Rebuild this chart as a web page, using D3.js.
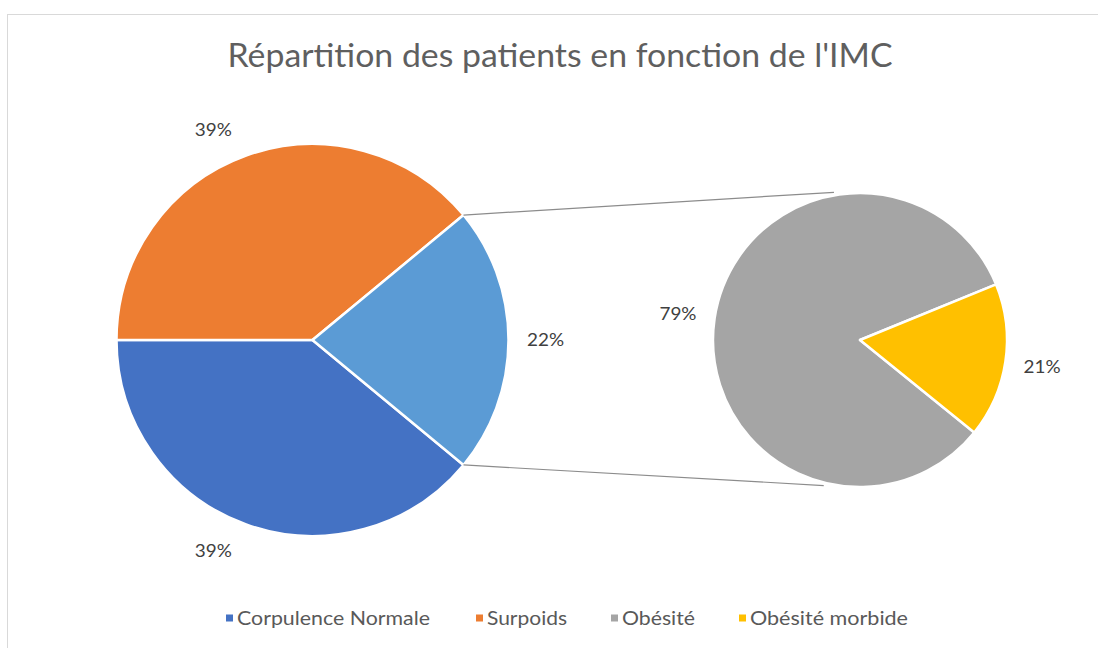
<!DOCTYPE html>
<html><head><meta charset="utf-8">
<script src="https://cdn.jsdelivr.net/npm/d3@7"></script>
<style>html,body{margin:0;padding:0;background:#fff;}svg{display:block;}</style>
</head><body>
<svg id="c" width="1098" height="648"></svg>
<script>
// ---- data ----
const mainCategories = ["Corpulence Normale", "Surpoids", "Autre"];
const mainValues = [39, 39, 22];
const mainLabels = ["39%", "39%", "22%"];
const subCategories = ["Obésité", "Obésité morbide"];
const subValues = [83, 17];
const subLabels = ["79%", "21%"];
const legendCategories = ["Corpulence Normale", "Surpoids", "Obésité", "Obésité morbide"];
const titleText = "Répartition des patients en fonction de l'IMC";

// ---- layout / style ----
const W = 1098, H = 648;
const colors = {"Corpulence Normale":"#4472C4","Surpoids":"#ED7D31","Autre":"#5B9BD5","Obésité":"#A5A5A5","Obésité morbide":"#FFC000"};
const mainC = {x:312.5, y:340, r:196};
const subC = {x:860, y:340, r:147};
const deg = Math.PI/180;
const font = "Lato, 'Open Sans', sans-serif";

const svg = d3.select("#c");
svg.append("rect").attr("x",7.5).attr("y",14.5).attr("width",W).attr("height",H)
  .attr("fill","#fff").attr("stroke","#d9d9d9").attr("stroke-width",1);

svg.append("text").attr("x",560).attr("y",67).attr("text-anchor","middle")
  .attr("font-family",font).attr("font-size",32).attr("font-weight",400).attr("fill","#5f5f5f")
  .attr("textLength",665).attr("lengthAdjust","spacingAndGlyphs").text(titleText);

// main pie: "other" slice centred on 3 o'clock
const otherSpan = mainValues[2]/d3.sum(mainValues)*2*Math.PI;
const mainStart = Math.PI/2 + otherSpan/2;
const mainPie = d3.pie().sort(null).value(d=>d).startAngle(mainStart).endAngle(mainStart+2*Math.PI);
const mainArcs = mainPie(mainValues);
const mainArc = d3.arc().innerRadius(0).outerRadius(mainC.r);
const gm = svg.append("g").attr("transform",`translate(${mainC.x},${mainC.y})`);
gm.selectAll("path").data(mainArcs).join("path")
  .attr("d",mainArc).attr("fill",(d,i)=>colors[mainCategories[i]])
  .attr("stroke","#fff").attr("stroke-width",2.5).attr("stroke-linejoin","round");

// secondary pie
const subStart = 129*deg;
const subPie = d3.pie().sort(null).value(d=>d).startAngle(subStart).endAngle(subStart+2*Math.PI);
const subArcs = subPie(subValues);
const subArc = d3.arc().innerRadius(0).outerRadius(subC.r);
const gs = svg.append("g").attr("transform",`translate(${subC.x},${subC.y})`);
gs.selectAll("path").data(subArcs).join("path")
  .attr("d",subArc).attr("fill",(d,i)=>colors[subCategories[i]])
  .attr("stroke","#fff").attr("stroke-width",2.5).attr("stroke-linejoin","round");

// connector lines
const o = mainArcs[2];
const pt = (c,a,r)=>[c.x+r*Math.sin(a), c.y-r*Math.cos(a)];
const conns = [
  [pt(mainC,o.startAngle,mainC.r), pt(subC,-10*deg,subC.r+3)],
  [pt(mainC,o.endAngle,mainC.r), pt(subC,194*deg,subC.r+3)]
];
svg.selectAll("line.conn").data(conns).join("line").attr("class","conn")
  .attr("x1",d=>d[0][0]).attr("y1",d=>d[0][1]).attr("x2",d=>d[1][0]).attr("y2",d=>d[1][1])
  .attr("stroke","#8c8c8c").attr("stroke-width",1.2);

// data labels
const mainNudge = [5.4*deg, -5.4*deg, 0];
const labelFont = 18;
function addLabels(g, arcs, labels, r, off, nudge){
  g.selectAll("text").data(arcs).join("text")
    .attr("x",(d,i)=>(r+off)*Math.sin((d.startAngle+d.endAngle)/2+(nudge?nudge[i]:0)))
    .attr("y",(d,i)=>-(r+off)*Math.cos((d.startAngle+d.endAngle)/2+(nudge?nudge[i]:0)))
    .attr("dy","0.36em").attr("text-anchor","middle")
    .attr("font-family",font).attr("font-size",labelFont).attr("fill","#404040")
    .attr("textLength",37).attr("lengthAdjust","spacingAndGlyphs")
    .text((d,i)=>labels[i]);
}
addLabels(gm.append("g"), mainArcs, mainLabels, mainC.r, 37, mainNudge);
addLabels(gs.append("g"), subArcs, subLabels, subC.r, 37, null);

// legend
const legendTextX = [237, 487, 622, 750];
const legendTextW = [193, 80, 73, 158];
const lg = svg.append("g");
const items = lg.selectAll("g").data(legendCategories).join("g");
items.append("rect").attr("x",(d,i)=>legendTextX[i]-11).attr("y",614.5).attr("width",7).attr("height",7)
  .attr("fill",d=>colors[d]);
items.append("text").attr("x",(d,i)=>legendTextX[i]).attr("y",618).attr("dy","0.36em")
  .attr("font-family",font).attr("font-size",18.5).attr("fill","#595959")
  .attr("textLength",(d,i)=>legendTextW[i]).attr("lengthAdjust","spacingAndGlyphs")
  .text(d=>d);
</script>
</body></html>
